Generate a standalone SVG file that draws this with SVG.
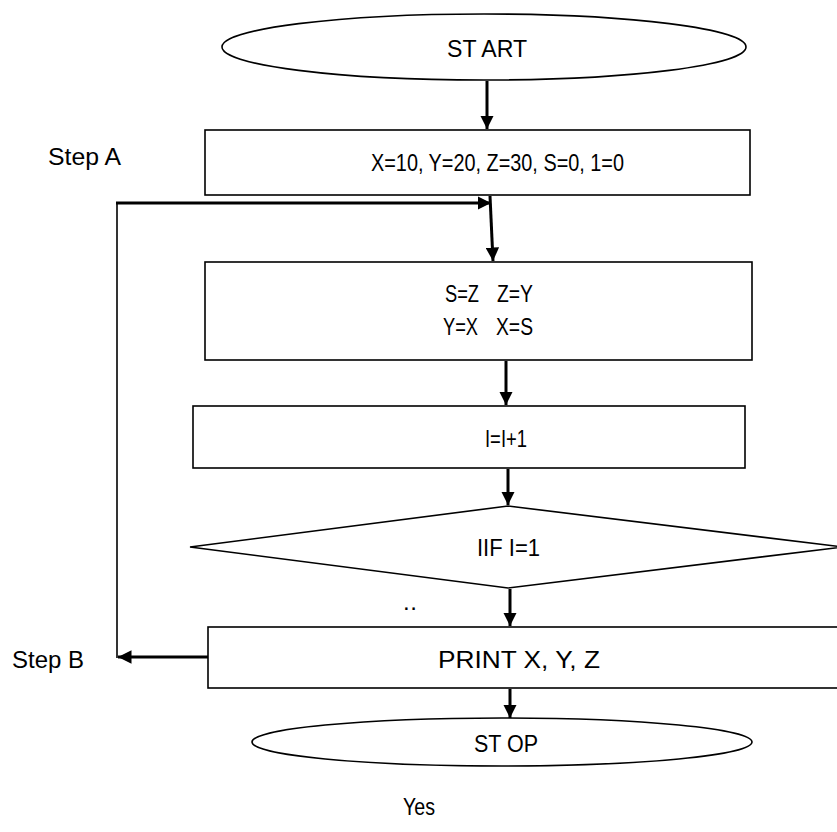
<svg xmlns="http://www.w3.org/2000/svg" width="837" height="832" viewBox="0 0 837 832">
  <style>
    .shape { fill: #fff; stroke: #000; stroke-width: 1.6; }
    .flow { fill: none; stroke: #000; stroke-width: 3; }
    .thin { fill: none; stroke: #000; stroke-width: 1.6; }
    text { font-family: "Liberation Sans", Arial, sans-serif; font-size: 24px; fill: #000; }
  </style>
  <defs>
    <marker id="arrow" viewBox="0 0 10 10" refX="10" refY="5" markerWidth="4.5" markerHeight="4.5" markerUnits="strokeWidth" orient="auto">
      <path d="M0,0 L10,5 L0,10 Z" fill="#000"/>
    </marker>
  </defs>

  <g id="connectors">
    <line class="flow" x1="487" y1="81" x2="487" y2="129" marker-end="url(#arrow)"/>
    <line class="flow" x1="490" y1="196" x2="493" y2="261" marker-end="url(#arrow)"/>
    <line class="flow" x1="506" y1="361" x2="506" y2="405" marker-end="url(#arrow)"/>
    <line class="flow" x1="508" y1="469" x2="508" y2="505" marker-end="url(#arrow)"/>
    <line class="flow" x1="510" y1="589" x2="510" y2="626" marker-end="url(#arrow)"/>
    <line class="flow" x1="510" y1="689" x2="510" y2="718" marker-end="url(#arrow)"/>
    <!-- loop back from the print step to the swap step -->
    <line class="flow" x1="208" y1="657" x2="118" y2="657" marker-end="url(#arrow)"/>
    <line class="thin" x1="117" y1="658" x2="117" y2="203"/>
    <line class="flow" x1="116" y1="203" x2="491" y2="203" marker-end="url(#arrow)"/>
  </g>

  <g id="start">
    <ellipse class="shape" cx="484" cy="47" rx="262" ry="33"/>
    <text x="447" y="57" textLength="80" lengthAdjust="spacingAndGlyphs">ST ART</text>
  </g>

  <g id="step-a-label">
    <text x="48" y="165" textLength="73" lengthAdjust="spacingAndGlyphs">Step A</text>
  </g>

  <g id="init">
    <rect class="shape" x="205" y="130" width="545" height="65"/>
    <text x="371" y="171" textLength="253" lengthAdjust="spacingAndGlyphs">X=10, Y=20, Z=30, S=0, 1=0</text>
  </g>

  <g id="swap">
    <rect class="shape" x="205" y="262" width="547" height="98"/>
    <text x="445" y="302" textLength="34" lengthAdjust="spacingAndGlyphs">S=Z</text>
    <text x="497" y="302" textLength="36" lengthAdjust="spacingAndGlyphs">Z=Y</text>
    <text x="443" y="335" textLength="35" lengthAdjust="spacingAndGlyphs">Y=X</text>
    <text x="496" y="335" textLength="37" lengthAdjust="spacingAndGlyphs">X=S</text>
  </g>

  <g id="increment">
    <rect class="shape" x="193" y="406" width="552" height="62"/>
    <text x="485" y="447" textLength="42" lengthAdjust="spacingAndGlyphs">I=I+1</text>
  </g>

  <g id="decision">
    <polygon class="shape" points="508,506 843,547 508,588 190,547"/>
    <text x="477" y="556" textLength="63" lengthAdjust="spacingAndGlyphs">IIF I=1</text>
  </g>

  <text x="403" y="610" font-size="10" textLength="14" lengthAdjust="spacing">. .</text>

  <g id="step-b-label">
    <text x="12" y="668" textLength="72" lengthAdjust="spacingAndGlyphs">Step B</text>
  </g>

  <g id="print">
    <rect class="shape" x="208" y="627" width="640" height="61"/>
    <text x="438" y="668" textLength="162" lengthAdjust="spacingAndGlyphs">PRINT X, Y, Z</text>
  </g>

  <g id="stop">
    <ellipse class="shape" cx="502" cy="742" rx="250" ry="24"/>
    <text x="474" y="752" textLength="64" lengthAdjust="spacingAndGlyphs">ST OP</text>
  </g>

  <text x="403" y="815" textLength="32" lengthAdjust="spacingAndGlyphs">Yes</text>
</svg>
